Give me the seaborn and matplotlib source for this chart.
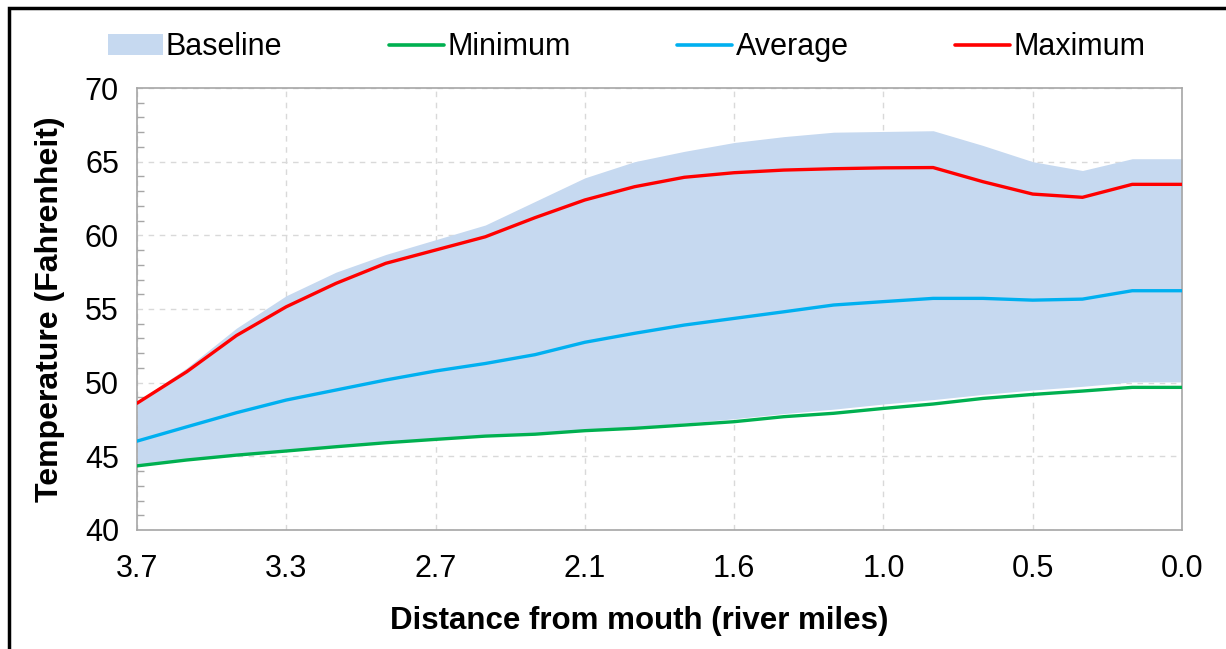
from matplotlib import pyplot as plt
from matplotlib.patches import Rectangle, Patch
from matplotlib.ticker import MultipleLocator
import numpy as np
import pandas as pd
import seaborn as sns

# tick labels along the river (every third station carries a label)
tick_labels = ['3.7', '3.3', '2.7', '2.1', '1.6', '1.0', '0.5', '0.0']

baseline_high = [48.7, 51.0, 53.7, 55.9, 57.5, 58.7, 59.7, 60.7, 62.3, 63.9, 65.0,
                 65.7, 66.3, 66.7, 67.0, 67.05, 67.1, 66.1, 65.0, 64.4, 65.2, 65.2]
baseline_low = [44.4, 44.8, 45.15, 45.4, 45.7, 45.95, 46.2, 46.4, 46.6, 46.8, 47.0,
                47.25, 47.55, 47.9, 48.2, 48.55, 48.85, 49.2, 49.5, 49.75, 50.05, 50.05]
minimum = [44.35, 44.75, 45.08, 45.36, 45.65, 45.92, 46.15, 46.37, 46.5, 46.74, 46.9,
           47.12, 47.35, 47.69, 47.92, 48.25, 48.55, 48.93, 49.2, 49.43, 49.68, 49.68]
average = [46.03, 47.0, 47.96, 48.82, 49.5, 50.18, 50.79, 51.3, 51.9, 52.74, 53.35,
           53.91, 54.36, 54.81, 55.27, 55.5, 55.72, 55.72, 55.6, 55.67, 56.24, 56.24]
maximum = [48.6, 50.74, 53.2, 55.15, 56.74, 58.1, 59.0, 59.9, 61.2, 62.4, 63.3,
           63.94, 64.25, 64.43, 64.52, 64.58, 64.6, 63.64, 62.8, 62.58, 63.46, 63.46]

station = np.arange(len(minimum))
df = pd.DataFrame({'station': station, 'Minimum': minimum,
                   'Average': average, 'Maximum': maximum})
long_df = df.melt(id_vars='station', var_name='series', value_name='temp')

colors = {'Minimum': '#00b050', 'Average': '#00b0f0', 'Maximum': '#ff0000'}
fill_color = '#c6d9f0'
spine_gray = '#a6a6a6'

sns.set_style('white')
plt.rcParams['font.family'] = ['Liberation Sans', 'DejaVu Sans']
plt.rcParams['text.color'] = 'black'
plt.rcParams['axes.labelcolor'] = 'black'
plt.rcParams['xtick.color'] = 'black'
plt.rcParams['ytick.color'] = 'black'

fig = plt.figure(figsize=(12.26, 6.49), dpi=100)
ax = fig.add_axes([0.1117, 0.1834, 0.8524, 0.681])

ax.fill_between(station, baseline_low, baseline_high, color=fill_color, lw=0, zorder=1)
sns.lineplot(data=long_df, x='station', y='temp', hue='series', palette=colors,
             linewidth=2.4, ax=ax, legend=False, zorder=3)

ax.set_xlim(0, len(station) - 1)
ax.set_ylim(40, 70)
ax.set_xticks(np.arange(0, len(station), 3))
ax.set_xticklabels(tick_labels)
ax.yaxis.set_major_locator(MultipleLocator(5))
ax.yaxis.set_minor_locator(MultipleLocator(1))

ax.grid(True, which='major', color='#d9d9d9', linestyle=(0, (4, 4)), linewidth=1, zorder=0)
ax.set_axisbelow(True)
for s in ax.spines.values():
    s.set_color(spine_gray)
    s.set_linewidth(1.2)

ax.tick_params(axis='both', which='major', direction='in', length=6, color=spine_gray,
               labelcolor='black', labelsize=22, width=1)
ax.tick_params(axis='x', pad=17)
ax.tick_params(axis='y', pad=13)
ax.tick_params(axis='y', which='minor', direction='in', length=5, color=spine_gray,
               width=1, left=True)
ax.tick_params(axis='x', which='minor', bottom=False)

ax.set_xlabel('Distance from mouth (river miles)', fontsize=22.5, fontweight='bold')
ax.xaxis.set_label_coords(0.481, -0.172)
ax.set_ylabel('Temperature (Fahrenheit)', fontsize=23, fontweight='bold', labelpad=14)

handles = [Patch(facecolor=fill_color, edgecolor='none', label='Baseline')]
for name in ['Minimum', 'Average', 'Maximum']:
    handles.append(plt.Line2D([], [], color=colors[name], lw=2.6, label=name))
fig.legend(handles=handles, loc='center', bbox_to_anchor=(0.511, 0.927), ncol=4,
           frameon=False, fontsize=22, handlelength=1.8, handletextpad=0.1,
           columnspacing=3.5)

# black outer frame of the original chart
fig.patches.append(Rectangle((9 / 1226, -0.1), 1.2, 1.1 - 8 / 649, transform=fig.transFigure,
                             fill=False, edgecolor='black', linewidth=2.5, clip_on=False))

fig.savefig('out.png', dpi=100)
